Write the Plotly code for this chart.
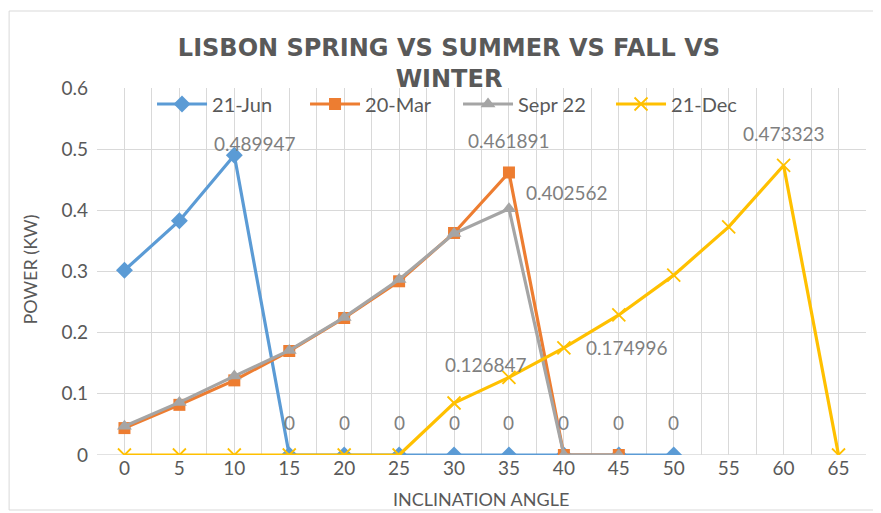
import plotly.graph_objects as go

angles = [0, 5, 10, 15, 20, 25, 30, 35, 40, 45, 50, 55, 60, 65]

jun21 = [0.302, 0.383, 0.489947, 0, 0, 0, 0, 0, 0, 0, 0]
mar20 = [0.044, 0.082, 0.122, 0.170, 0.224, 0.284, 0.363, 0.461891, 0, 0]
sep22 = [0.047, 0.086, 0.129, 0.171, 0.225, 0.287, 0.362, 0.402562, 0, 0]
dec21 = [0, 0, 0, 0, 0, 0, 0.085, 0.126847, 0.174996, 0.229, 0.294, 0.373, 0.473323, 0]

series_names = ["21-Jun", "20-Mar", "Sepr 22", "21-Dec"]
series_values = [jun21, mar20, sep22, dec21]
colors = ["#5B9BD5", "#ED7D31", "#A5A5A5", "#FFC000"]
symbols = ["diamond", "square", "triangle-up", "x-thin-open"]
msizes = [13, 12, 13, 13]

FONT = "Lato"
TICK = "#595959"
LAB = "#7F7F7F"

# page body has an 8px margin; work in window pixels and convert
OFF = 8
FW, FH = 881 - OFF, 513 - OFF

fig = go.Figure()
for name, vals, c, s, ms in zip(series_names, series_values, colors, symbols, msizes):
    marker = dict(symbol=s, size=ms, color=c)
    if s == "x-thin-open":
        marker["line"] = dict(color=c, width=1.8)
    fig.add_trace(go.Scatter(
        x=angles[:len(vals)], y=vals, name=name, mode="lines+markers",
        line=dict(color=c, width=3.2),
        marker=marker,
    ))

# data labels: (series index, point index, xshift, yshift)
label_spec = [
    (0, 2, 21, 12),
    (1, 7, 0, 32),
    (2, 7, 58, 16),
    (3, 12, 0, 32),
    (3, 7, -23, 13),
    (3, 8, 63, 0),
] + [(0, i, 0, 33) for i in range(3, 11)]

annotations = []
for si, pi, xs, ys in label_spec:
    v = series_values[si][pi]
    annotations.append(dict(
        x=angles[pi], y=v, xref="x", yref="y", text=f"{v:g}", showarrow=False,
        xshift=xs, yshift=ys, font=dict(family=FONT, size=19, color=LAB),
    ))

# window-pixel plot area
L, R, T, B = 96.5, 866.5, 88, 455
pw, ph = R - L, B - T

def px(x):
    return (x - L) / pw

def py(y):
    return (B - y) / ph

annotations.append(dict(
    x=px(481), y=py(499), xref="paper", yref="paper", text="INCLINATION ANGLE", showarrow=False,
    xanchor="center", yanchor="middle", font=dict(family=FONT, size=18, color=TICK),
))
annotations.append(dict(
    x=px(29), y=py(270), xref="paper", yref="paper", text="POWER (KW)", showarrow=False,
    textangle=-90, xanchor="center", yanchor="middle", font=dict(family=FONT, size=18, color=TICK),
))

fig.update_layout(
    width=FW, height=FH,
    margin=dict(l=L - OFF, r=FW - (R - OFF), t=T - OFF, b=FH - (B - OFF), autoexpand=False),
    paper_bgcolor="white", plot_bgcolor="white",
    title=dict(
        text="LISBON SPRING VS SUMMER VS FALL VS<br>WINTER",
        xref="container", yref="container",
        x=(449 - OFF) / FW, xanchor="center", y=1 - (56 - OFF) / FH, yanchor="middle",
        font=dict(family="DejaVu Sans", size=24, color=TICK, weight="bold"),
    ),
    showlegend=True,
    legend=dict(
        orientation="h", x=px(458), xanchor="center", y=py(104), yanchor="middle",
        font=dict(family=FONT, size=20, color=TICK), bgcolor="rgba(0,0,0,0)",
        itemwidth=50, entrywidth=88, tracegroupgap=0,
    ),
    xaxis=dict(
        range=[-2.5, 67.5], tickmode="array", tickvals=angles, ticktext=[str(a) for a in angles],
        showgrid=True, gridcolor="#D9D9D9", gridwidth=1,
        minor=dict(dtick=5, tick0=2.5, showgrid=True, gridcolor="#D9D9D9", gridwidth=1),
        zeroline=False, showline=False, ticks="",
        tickfont=dict(family=FONT, size=19, color=TICK), fixedrange=True,
    ),
    yaxis=dict(
        range=[0, 0.6], dtick=0.1, tickformat="~g",
        showgrid=True, gridcolor="#D9D9D9", gridwidth=1,
        zeroline=False, showline=False, ticks="", ticklabelstandoff=8,
        tickfont=dict(family=FONT, size=19, color=TICK),
    ),
    annotations=annotations,
    shapes=[
        dict(type="rect", xref="paper", yref="paper",
             x0=px(8.5), x1=px(876), y0=py(510), y1=py(11),
             line=dict(color="#D9D9D9", width=1), fillcolor="rgba(0,0,0,0)", layer="below"),
        dict(type="line", xref="paper", yref="y", x0=0, x1=1, y0=0, y1=0,
             line=dict(color="#D9D9D9", width=1.5), layer="below"),
    ],
)

fig.write_html("out.html")
